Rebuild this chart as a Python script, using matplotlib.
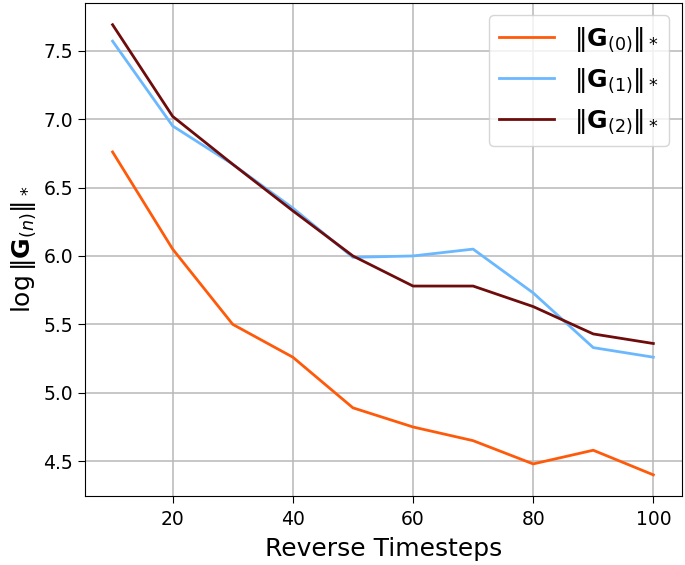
import matplotlib
matplotlib.use('Agg')
import matplotlib.pyplot as plt

# reverse timesteps and log nuclear norms
steps = [10, 20, 30, 40, 50, 60, 70, 80, 90, 100]
g0 = [6.76, 6.05, 5.50, 5.26, 4.89, 4.75, 4.65, 4.48, 4.58, 4.40]
g1 = [7.57, 6.95, 6.67, 6.35, 5.99, 6.00, 6.05, 5.73, 5.33, 5.26]
g2 = [7.69, 7.02, 6.67, 6.33, 6.00, 5.78, 5.78, 5.63, 5.43, 5.36]
labels = [r'$\|\mathbf{G}_{(0)}\|_*$', r'$\|\mathbf{G}_{(1)}\|_*$', r'$\|\mathbf{G}_{(2)}\|_*$']
colors = ['#ff5a0a', '#6bb8ff', '#6e0c0c']

fig, ax = plt.subplots(figsize=(6.85, 5.65), dpi=100)
for ys, lab, c in zip([g0, g1, g2], labels, colors):
    ax.plot(steps, ys, color=c, lw=2, label=lab)

ax.set_xlim(5.4, 104.7)
ax.set_ylim(4.245, 7.85)
ax.set_xticks([20, 40, 60, 80, 100])
ax.set_yticks([4.5, 5.0, 5.5, 6.0, 6.5, 7.0, 7.5])
ax.tick_params(labelsize=13.5, length=5)
ax.tick_params(axis='x', pad=5)
ax.grid(True, color='#b8b8b8', lw=1.1)
ax.set_xlabel('Reverse Timesteps', fontsize=18, labelpad=6)
ax.set_ylabel(r'$\log\|\mathbf{G}_{(n)}\|_*$', fontsize=18, labelpad=4)
ax.legend(loc='upper right', fontsize=18, handlelength=2.2)

fig.subplots_adjust(left=0.124, right=0.995, top=0.995, bottom=0.122)
fig.savefig('out.png', dpi=100)
